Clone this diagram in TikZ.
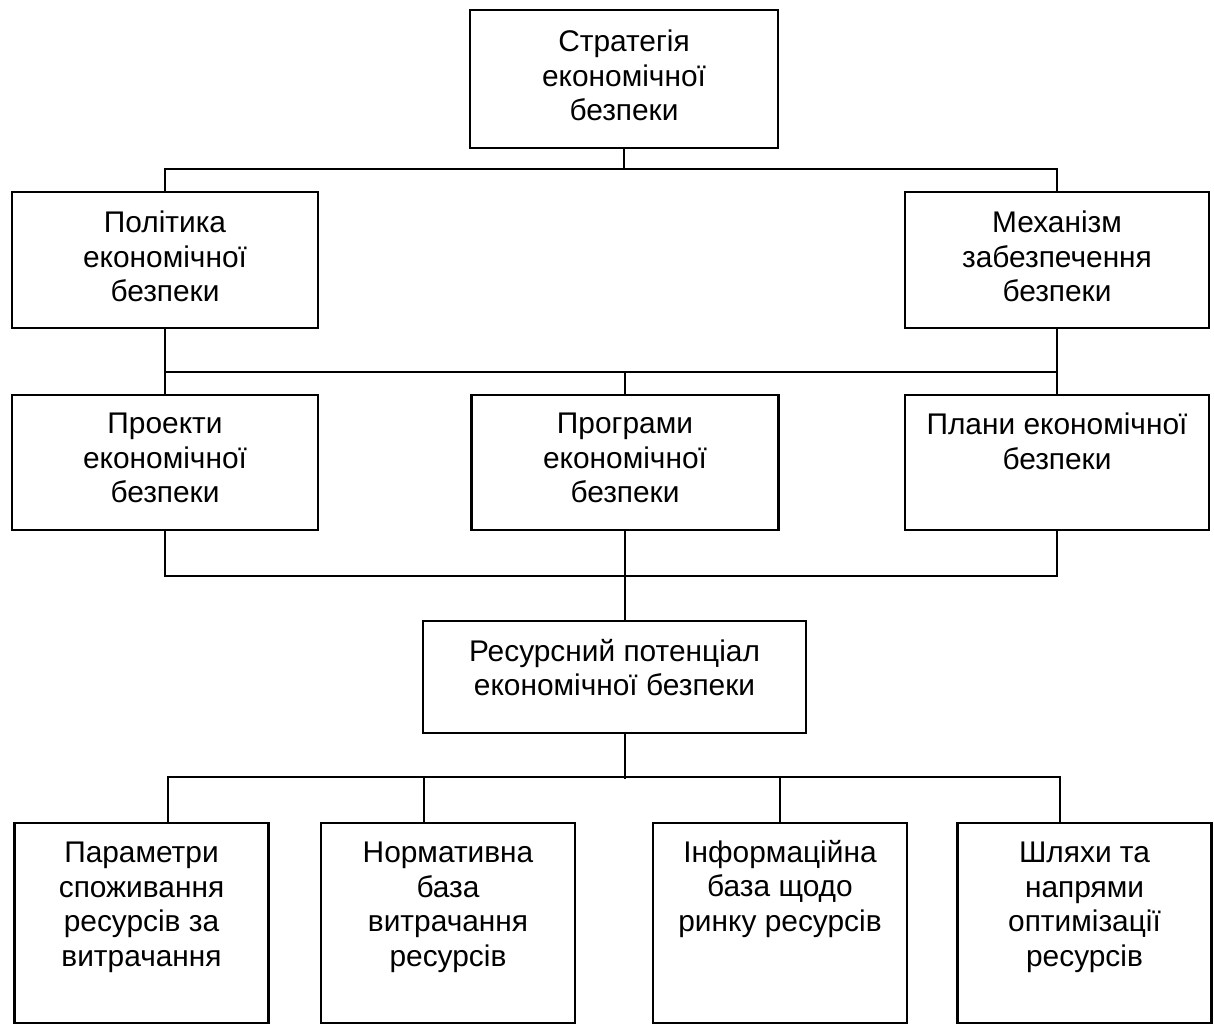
\documentclass[tikz,border=0pt]{standalone}
\usepackage{fontspec}
\setmainfont{Liberation Sans}
\usepackage{tikz}
\usetikzlibrary{positioning, calc}

\begin{document}
\begin{tikzpicture}[x=0.02cm, y=-0.02cm]
		\tikzstyle{blk}=[draw=black, line width=1.2pt, inner sep=0pt, minimum width=6.12cm, minimum height=2.72cm]
		\tikzstyle{blkb}=[blk, minimum width=5.08cm, minimum height=4cm]
		\tikzstyle{txt}=[draw=none, align=center, inner sep=0pt, text=black, font=\fontsize{17}{19.6}\selectfont]
		\useasboundingbox (0,0) rectangle (1214,1025);
		%%
		\node (strat) at (624,79) [blk, minimum width=6.16cm, minimum height=2.76cm] {};
		\node (polit) at (165,260) [blk] {};
		\node (mekh) at (1057,260) [blk, minimum width=6.08cm] {};
		\node (proj) at (165,462.5) [blk, minimum height=2.7cm] {};
		\node (prog) at (625,462.5) [blk, minimum width=6.14cm, minimum height=2.7cm] {};
		\node (plan) at (1057,462.5) [blk, minimum width=6.08cm, minimum height=2.7cm] {};
		\node (res) at (614.5,677) [blk, minimum width=7.66cm, minimum height=2.24cm] {};
		\node (b1) at (141.5,923) [blkb] {};
		\node (b2) at (448,923) [blkb] {};
		\node (b3) at (780,923) [blkb] {};
		\node (b4) at (1084.5,923) [blkb] {};
		
		\draw [line width=1.2pt] (strat.south) -- ++(0,20) -| (polit.north);
		\draw [line width=1.2pt] (strat.south) ++(0,20) -| (mekh.north);
		\draw [line width=1.2pt] (polit) -- (proj);
		\draw [line width=1.2pt] (mekh) -- (plan);
		\draw [line width=1.2pt] (proj.north) ++(0,-22) -| (plan.north);
		\draw [line width=1.2pt] (prog.north) -- ++(0,-22);
		\draw [line width=1.2pt] (proj.south) -- ++(0,45) -| (plan.south);
		\draw [line width=1.2pt] (prog.south) -- (prog.south |- res.north);
		\draw [line width=1.2pt] (prog.south |- res.south) -- ++(0,45);
		\draw [line width=1.2pt] ([xshift=0.53cm]b1.north) -- ++(0,-45) -| ([xshift=-0.49cm]b4.north);
		\draw [line width=1.2pt] ([xshift=-0.48cm]b2.north) -- ++(0,-45);
		\draw [line width=1.2pt] (b3.north) -- ++(0,-45);
		
		\node [below=0.42cm of strat.north, txt](lstrat) {Стратегія\\економічної\\безпеки};
		\node [below=0.4cm of polit.north, txt](lpolit) {Політика\\економічної\\безпеки};
		\node [below=0.4cm of mekh.north, txt](lmekh) {Механізм\\забезпечення\\безпеки};
		\node [below=0.38cm of proj.north, txt](lproj) {Проекти\\економічної\\безпеки};
		\node [below=0.38cm of prog.north, txt](lprog) {Програми\\економічної\\безпеки};
		\node [below=0.38cm of plan.north, txt](lplan) {Плани економічної\\безпеки};
		\node [below=0.38cm of res.north, txt](lres) {Ресурсний потенціал\\економічної безпеки};
		\node [below=0.4cm of b1.north, txt](lb1) {Параметри\\споживання\\ресурсів за\\витрачання};
		\node [below=0.4cm of b2.north, txt](lb2) {Нормативна\\база\\витрачання\\ресурсів};
		\node [below=0.36cm of b3.north, txt](lb3) {Інформаційна\\база щодо\\ринку ресурсів};
		\node [below=0.4cm of b4.north, txt](lb4) {Шляхи та\\напрями\\оптимізації\\ресурсів};
		\end{tikzpicture}
\end{document}
